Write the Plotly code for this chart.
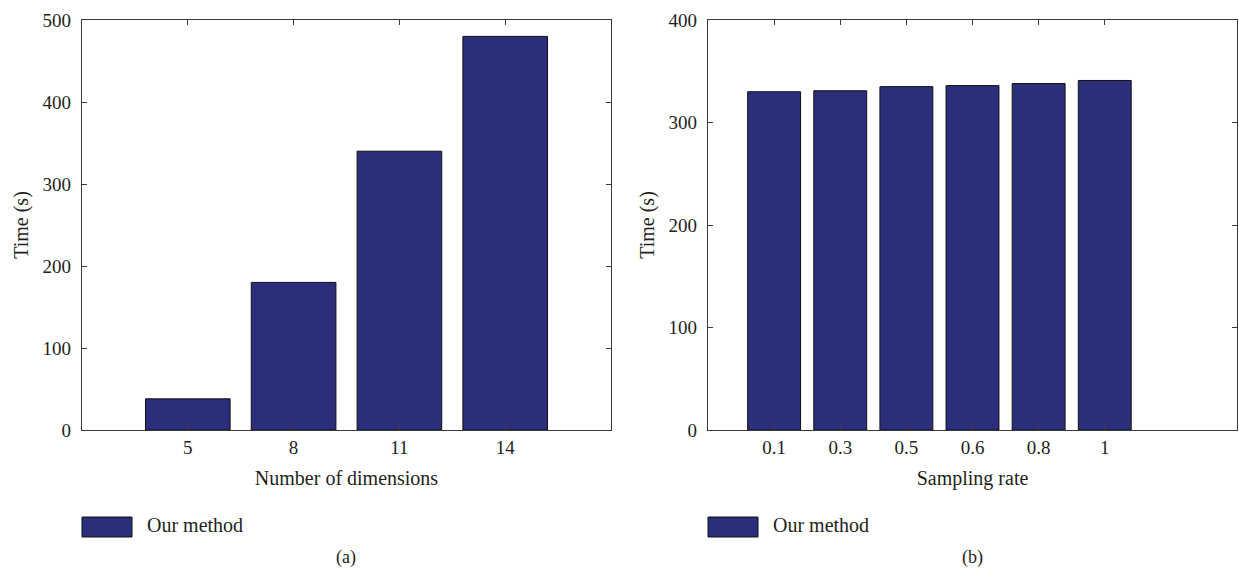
import plotly.graph_objects as go

# Data
dims = ["5", "8", "11", "14"]
dims_time = [38, 180, 340, 480]
rates = ["0.1", "0.3", "0.5", "0.6", "0.8", "1"]
rates_time = [330, 331, 335, 336, 338, 341]
series_name = "Our method"

BAR = "#2a2e7b"
FONT = "Liberation Serif, Times New Roman, serif"
TXT = "#231f20"
AX = "#3a3a3a"
TICK_FS = 19
TITLE_FS = 20

fig = go.Figure()
fig.add_trace(go.Bar(x=dims, y=dims_time, name=series_name,
                     marker=dict(color=BAR, line=dict(color="#111111", width=1)),
                     xaxis="x", yaxis="y", showlegend=False))
fig.add_trace(go.Bar(x=rates, y=rates_time, name=series_name,
                     marker=dict(color=BAR, line=dict(color="#111111", width=1)),
                     xaxis="x2", yaxis="y2", showlegend=False))

W, H = 1239, 579
def px(x): return x / W
def py(y): return 1 - y / H

axcommon = dict(showline=True, linecolor=AX, linewidth=1.2, mirror="ticks", ticks="inside", ticklen=5,
                tickcolor=AX, showgrid=False, zeroline=False, automargin=False,
                tickfont=dict(family=FONT, size=TICK_FS, color=TXT))
tfont = dict(family=FONT, size=TITLE_FS, color=TXT)

fig.update_layout(
    width=W, height=H, margin=dict(l=0, r=0, t=0, b=0),
    paper_bgcolor="white", plot_bgcolor="white", bargap=0.2,
    font=dict(family=FONT, color=TXT),
    xaxis=dict(domain=[px(82), px(611)], anchor="y", type="category", range=[-1, 4],
               title=dict(text="Number of dimensions", font=tfont, standoff=14), **axcommon),
    yaxis=dict(domain=[py(430), py(20)], anchor="x", range=[0, 500], tickvals=[0, 100, 200, 300, 400, 500],
               title=dict(text="Time (s)", font=tfont, standoff=8),
               ticklabelstandoff=6, **axcommon),
    xaxis2=dict(domain=[px(708), px(1237)], anchor="y2", type="category", range=[-1, 7],
                title=dict(text="Sampling rate", font=tfont, standoff=14), **axcommon),
    yaxis2=dict(domain=[py(430), py(20)], anchor="x2", range=[0, 400], tickvals=[0, 100, 200, 300, 400],
                title=dict(text="Time (s)", font=tfont, standoff=8),
                ticklabelstandoff=6, **axcommon),
)

# Legend boxes and panel labels
for x0 in [82, 708]:
    fig.add_shape(type="rect", xref="paper", yref="paper", x0=px(x0), x1=px(x0 + 50), y0=py(537), y1=py(517),
                  fillcolor=BAR, line=dict(color="#111111", width=1))
    fig.add_annotation(xref="paper", yref="paper", x=px(x0 + 63), y=py(525), text=series_name, showarrow=False,
                       xanchor="left", yanchor="middle", font=dict(family=FONT, size=TITLE_FS, color=TXT))
for xc, lab in [(346, "(a)"), (972, "(b)")]:
    fig.add_annotation(xref="paper", yref="paper", x=px(xc), y=py(557), text=lab, showarrow=False,
                       xanchor="center", yanchor="middle", font=dict(family=FONT, size=18, color=TXT))

fig.write_html("out.html", config={"displayModeBar": False},
               post_script="document.body.style.margin='0';document.body.style.overflow='hidden';")
